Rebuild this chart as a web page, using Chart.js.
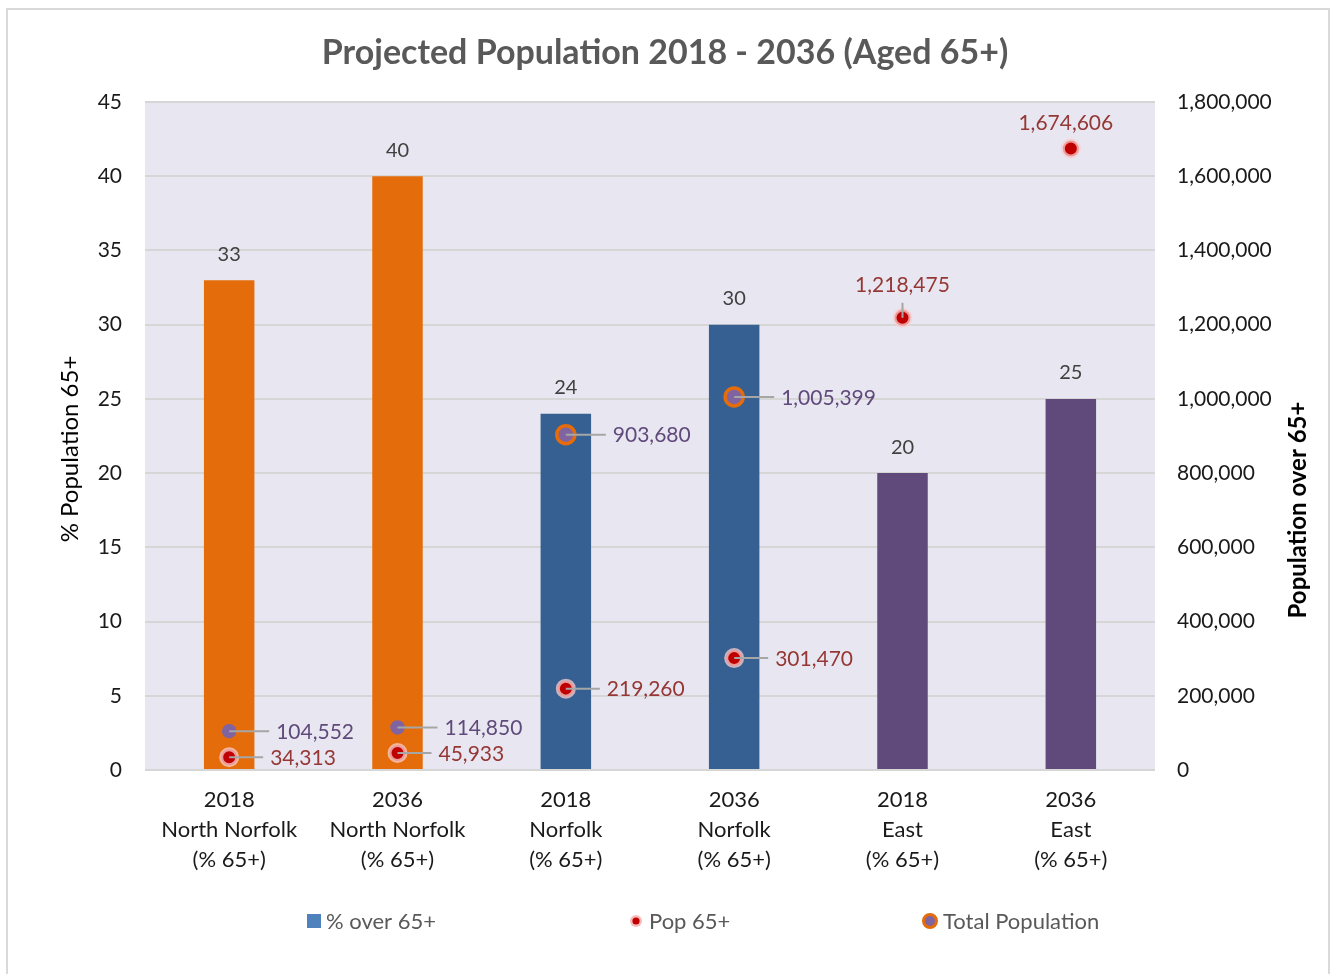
<!DOCTYPE html>
<html><head><meta charset="utf-8">
<script src="https://cdn.jsdelivr.net/npm/chart.js@4.4.0/dist/chart.umd.min.js"></script>
<style>html,body{margin:0;padding:0;background:#fff;overflow:hidden}</style>
</head><body>
<canvas id="c" width="1330" height="974"></canvas>
<script>
// ---- data ----
const categories = [
  ["2018", "North Norfolk", "(% 65+)"],
  ["2036", "North Norfolk", "(% 65+)"],
  ["2018", "Norfolk", "(% 65+)"],
  ["2036", "Norfolk", "(% 65+)"],
  ["2018", "East", "(% 65+)"],
  ["2036", "East", "(% 65+)"]
];
const pctOver65 = [33, 40, 24, 30, 20, 25];
const pop65 = [34313, 45933, 219260, 301470, 1218475, 1674606];
const totalPop = [104552, 114850, 903680, 1005399, null, null];
const seriesNames = ["% over 65+", "Pop 65+", "Total Population"];
const chartTitle = "Projected Population 2018 - 2036 (Aged 65+)";
const leftAxisTitle = "% Population 65+";
const rightAxisTitle = "Population over 65+";

// ---- styles ----
const FONT = "Lato";
const barColors = ["#E46C0A", "#E46C0A", "#366092", "#366092", "#604A7B", "#604A7B"];
const popLabelPlacement = ["right", "right", "right", "right", "aboveLeader", "above"];
const fmt = v => v.toLocaleString("en-US");

function drawPopMarker(ctx, x, y, r) {
  ctx.beginPath(); ctx.arc(x, y, r + 2, 0, Math.PI * 2);
  ctx.fillStyle = "rgba(255,255,255,0.55)"; ctx.fill();
  ctx.beginPath(); ctx.arc(x, y, r, 0, Math.PI * 2);
  ctx.fillStyle = "rgba(245,170,170,0.8)"; ctx.fill();
  ctx.beginPath(); ctx.arc(x, y, r * 0.6, 0, Math.PI * 2);
  ctx.fillStyle = "#C00000"; ctx.fill();
}

const decor = {
  id: "decor",
  beforeDraw(chart) {
    const {ctx, chartArea: a} = chart;
    ctx.save();
    ctx.fillStyle = "#E8E7F1";
    ctx.fillRect(a.left, a.top, a.right - a.left, a.bottom - a.top);
    ctx.strokeStyle = "#d9d9d9"; ctx.lineWidth = 2;
    ctx.beginPath(); ctx.moveTo(7, 974); ctx.lineTo(7, 9); ctx.lineTo(1329, 9); ctx.lineTo(1329, 974); ctx.stroke();
    ctx.restore();
  },
  afterDatasetsDraw(chart) {
    const ctx = chart.ctx;
    ctx.save();
    // bar value labels
    const barMeta = chart.getDatasetMeta(0);
    ctx.font = `20px ${FONT}`; ctx.fillStyle = "#404040";
    ctx.textAlign = "center"; ctx.textBaseline = "middle";
    barMeta.data.forEach((el, i) => {
      ctx.fillText(String(pctOver65[i]), el.x, el.y - 26);
    });
    ctx.font = `21px ${FONT}`;
    const lead = (x1, y1, x2, y2) => {
      ctx.strokeStyle = "#A6A6A6"; ctx.lineWidth = 2;
      ctx.beginPath(); ctx.moveTo(x1, y1); ctx.lineTo(x2, y2); ctx.stroke();
    };
    // total population labels
    chart.getDatasetMeta(2).data.forEach((el, i) => {
      if (totalPop[i] == null) return;
      lead(el.x, el.y, el.x + 40, el.y);
      ctx.fillStyle = "#604A7B"; ctx.textAlign = "left";
      ctx.fillText(fmt(totalPop[i]), el.x + 47, el.y + 1);
    });
    // pop 65+ labels
    chart.getDatasetMeta(1).data.forEach((el, i) => {
      const p = popLabelPlacement[i];
      ctx.fillStyle = "#953735";
      if (p === "right") {
        lead(el.x, el.y, el.x + 34, el.y);
        ctx.fillStyle = "#953735"; ctx.textAlign = "left";
        ctx.fillText(fmt(pop65[i]), el.x + 41, el.y + 1);
      } else {
        if (p === "aboveLeader") lead(el.x, el.y, el.x, el.y - 15);
        ctx.fillStyle = "#953735"; ctx.textAlign = "center";
        ctx.fillText(fmt(pop65[i]), el.x - (p === "above" ? 5 : 0), el.y - (p === "above" ? 25 : 33));
      }
    });
    ctx.restore();
  },
  afterDraw(chart) {
    const ctx = chart.ctx;
    ctx.save();
    // axis titles
    ctx.fillStyle = "#000"; ctx.textAlign = "center"; ctx.textBaseline = "middle";
    ctx.translate(70, 449); ctx.rotate(-Math.PI / 2);
    ctx.font = `24px ${FONT}`; ctx.fillText(leftAxisTitle, 0, 0);
    ctx.setTransform(1, 0, 0, 1, 0, 0);
    ctx.translate(1298, 510); ctx.rotate(-Math.PI / 2);
    ctx.font = `bold 24px ${FONT}`; ctx.fillText(rightAxisTitle, 0, 0);
    ctx.setTransform(1, 0, 0, 1, 0, 0);
    // legend
    const ly = 921;
    ctx.font = `22px ${FONT}`; ctx.textAlign = "left";
    ctx.fillStyle = "#4F81BD"; ctx.fillRect(307, ly - 7, 14, 14);
    ctx.fillStyle = "#595959"; ctx.fillText(seriesNames[0], 326, ly + 1);
    drawPopMarker(ctx, 636, ly, 6);
    ctx.fillStyle = "#595959"; ctx.fillText(seriesNames[1], 649, ly + 1);
    ctx.beginPath(); ctx.arc(930, ly, 6.5, 0, Math.PI * 2);
    ctx.fillStyle = "#8064A2"; ctx.fill();
    ctx.strokeStyle = "#E46C0A"; ctx.lineWidth = 3; ctx.stroke();
    ctx.fillStyle = "#595959"; ctx.fillText(seriesNames[2], 943, ly + 1);
    ctx.restore();
  }
};

new Chart(document.getElementById("c"), {
  data: {
    labels: categories,
    datasets: [
      {
        type: "bar", label: seriesNames[0], data: pctOver65, yAxisID: "y",
        backgroundColor: barColors, borderWidth: 0,
        categoryPercentage: 1, barPercentage: 0.3, order: 3
      },
      {
        type: "line", label: seriesNames[1], data: pop65, yAxisID: "y2", showLine: false,
        pointRadius: 8, pointBorderWidth: 4, pointBackgroundColor: "#C00000",
        pointBorderColor: "rgba(250,205,205,0.75)", pointHoverRadius: 8, order: 1
      },
      {
        type: "line", label: seriesNames[2], data: totalPop, yAxisID: "y2", showLine: false,
        pointRadius: 9, pointBorderWidth: 3.5, pointBackgroundColor: "#8064A2",
        pointBorderColor: "#E46C0A", pointHoverRadius: 9, order: 2
      }
    ]
  },
  options: {
    responsive: false, devicePixelRatio: 1, animation: false,
    layout: {padding: {top: 0, left: 0, right: 0, bottom: 99}},
    plugins: {
      legend: {display: false},
      tooltip: {enabled: false},
      title: {
        display: true, text: chartTitle, color: "#595959",
        font: {family: FONT, size: 34, weight: "bold", lineHeight: 1.2},
        padding: {top: 33, bottom: 28.2}
      }
    },
    scales: {
      x: {
        type: "category", offset: true,
        grid: {display: false, drawTicks: false},
        border: {display: false},
        ticks: {color: "#1a1a1a", font: {family: FONT, size: 22, lineHeight: 1.36}, padding: 15, maxRotation: 0, autoSkip: false},
        afterFit(s) { s.height = 105; }
      },
      y: {
        position: "left", min: 0, max: 45,
        grid: {color: "#d6d6d6", lineWidth: 2, drawTicks: false},
        border: {display: false},
        ticks: {stepSize: 5, color: "#1a1a1a", font: {family: FONT, size: 21}, padding: 23},
        afterFit(s) { s.width = 145; }
      },
      y2: {
        position: "right", min: 0, max: 1800000,
        grid: {drawOnChartArea: false, drawTicks: false},
        border: {display: false},
        ticks: {stepSize: 200000, color: "#1a1a1a", font: {family: FONT, size: 21}, padding: 22,
          callback: v => fmt(v)},
        afterFit(s) { s.width = 175; }
      }
    }
  },
  plugins: [decor]
});
</script>
</body></html>
